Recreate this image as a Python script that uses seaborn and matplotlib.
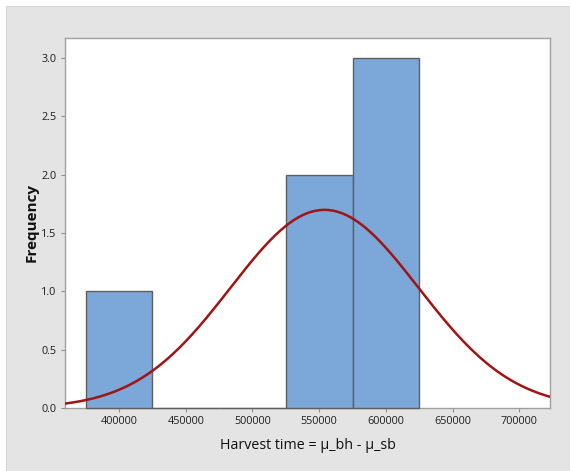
import numpy as np
import pandas as pd
import matplotlib
matplotlib.use("Agg")
import matplotlib.pyplot as plt
import seaborn as sns
from matplotlib.patches import Rectangle

# ---- data ----
bin_edges = [375000, 425000, 475000, 525000, 575000, 625000]
bin_counts = [1, 0, 0, 2, 3]
fit_mean = 554000      # normal fit mean
fit_sd = 70500         # normal fit standard deviation
x_ticks = [400000, 450000, 500000, 550000, 600000, 650000, 700000]
y_ticks = [0.0, 0.5, 1.0, 1.5, 2.0, 2.5, 3.0]
x_label = "Harvest time = \u03bc_bh - \u03bc_sb"
y_label = "Frequency"

sns.set_theme(style="white")
plt.rcParams['font.family'] = ['Open Sans', 'DejaVu Sans']

W, H = 570, 471
fig = plt.figure(figsize=(W / 100, H / 100), dpi=100, facecolor="white")
fig.patches.append(Rectangle((6 / W, 0), 1 - 6 / W, 1 - 5.5 / H, transform=fig.transFigure,
                             facecolor="#e4e4e4", edgecolor="#d8d8d8", lw=0.8, zorder=-10))
ax = fig.add_axes([65 / W, 1 - 408 / H, (550 - 65) / W, (408 - 38) / H])
ax.set_facecolor("white")

centers = [(a + b) / 2 for a, b in zip(bin_edges[:-1], bin_edges[1:])]
df = pd.DataFrame({"x": centers, "count": bin_counts})
sns.histplot(data=df, x="x", weights="count", bins=bin_edges, ax=ax,
             color="#7ba7d9", alpha=1, edgecolor="#5f5f5f", linewidth=1.0)
for p in ax.patches:
    p.set_zorder(3)
    p.set_clip_on(False)

xmin, xmax = 359500, 723000
n = sum(bin_counts)
bw = bin_edges[1] - bin_edges[0]
xs = np.linspace(xmin, xmax, 400)
ys = n * bw / (fit_sd * np.sqrt(2 * np.pi)) * np.exp(-0.5 * ((xs - fit_mean) / fit_sd) ** 2)
sns.lineplot(x=xs, y=ys, ax=ax, color="#a01414", lw=1.8, zorder=4)

ax.set_xlim(xmin, xmax)
ax.set_ylim(0, 3.17)
ax.set_xticks(x_ticks)
ax.set_xticklabels([str(v) for v in x_ticks], fontsize=7.8, color="#1e1e1e")
ax.set_yticks(y_ticks)
ax.set_yticklabels([f"{v:.1f}" for v in y_ticks], fontsize=7.8, color="#1e1e1e")
ax.tick_params(axis="both", which="both", direction="out", length=3, width=0.8,
               color="#909090", pad=3, left=True, bottom=True)
for s in ax.spines.values():
    s.set_color("#a0a0a0")
    s.set_linewidth(1.0)
    s.set_zorder(2.5)

ax.set_xlabel(x_label, fontsize=10.3, color="#111111", labelpad=8)
ax.set_ylabel(y_label, fontsize=11, fontweight="bold", color="#111111", labelpad=2)

fig.savefig("out.png", dpi=100, facecolor="white")
